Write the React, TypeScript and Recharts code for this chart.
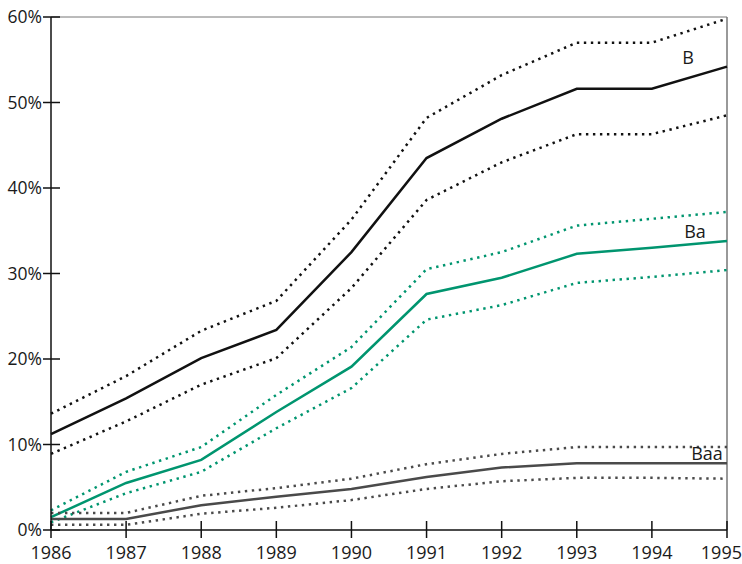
import { LineChart, Line, XAxis, YAxis, ReferenceLine, LabelList } from "recharts";

const years = [1986, 1987, 1988, 1989, 1990, 1991, 1992, 1993, 1994, 1995];

// B rated
const bMid = [11.2, 15.4, 20.1, 23.4, 32.5, 43.5, 48.1, 51.6, 51.6, 54.2];
const bHigh = [13.6, 18.0, 23.3, 26.8, 36.3, 48.2, 53.2, 57.0, 57.0, 59.8];
const bLow = [8.9, 12.7, 17.0, 20.1, 28.3, 38.6, 43.0, 46.3, 46.3, 48.5];

// Ba rated
const baMid = [1.5, 5.5, 8.2, 13.8, 19.1, 27.6, 29.5, 32.3, 33.0, 33.8];
const baHigh = [2.3, 6.8, 9.7, 15.8, 21.4, 30.5, 32.5, 35.6, 36.4, 37.2];
const baLow = [0.9, 4.3, 6.8, 11.9, 16.6, 24.6, 26.3, 28.9, 29.6, 30.4];

// Baa rated
const baaMid = [1.3, 1.3, 2.9, 3.9, 4.8, 6.2, 7.3, 7.8, 7.8, 7.8];
const baaHigh = [2.0, 2.0, 4.0, 4.9, 6.0, 7.7, 8.9, 9.7, 9.7, 9.7];
const baaLow = [0.6, 0.6, 1.9, 2.6, 3.5, 4.8, 5.7, 6.1, 6.1, 6.0];

const yTicks = [0, 10, 20, 30, 40, 50, 60];

const data = years.map((year, i) => ({
  year,
  bMid: bMid[i],
  bHigh: bHigh[i],
  bLow: bLow[i],
  baMid: baMid[i],
  baHigh: baHigh[i],
  baLow: baLow[i],
  baaMid: baaMid[i],
  baaHigh: baaHigh[i],
  baaLow: baaLow[i],
}));

const FONT = "'Open Sans', 'Noto Sans', sans-serif";
const TEXT = "#1a1a1a";
const BLACK = "#111";
const GREEN = "#00956f";
const GRAY = "#4a4a4a";
const DOTS = "2.4 4.6";

const TICK = 8;
const INNER = 9;

function YTick(props: any) {
  const { x, y, payload } = props;
  const ax = x + 2;
  return (
    <g>
      <line x1={ax} x2={ax + TICK + INNER} y1={y} y2={y} stroke="#111" strokeWidth={1.5} />
      <text x={x + 1} y={y} dy="0.35em" textAnchor="end" fontSize={17.5} fontFamily={FONT} fill={TEXT}>
        {payload.value}%
      </text>
    </g>
  );
}

function XTick(props: any) {
  const { x, y, payload, index } = props;
  const top = y - 8 - TICK;
  const last = index === years.length - 1;
  return (
    <g>
      <line x1={x} x2={x} y1={top - INNER} y2={top + TICK} stroke="#111" strokeWidth={1.5} />
      <text
        x={last ? x + 15 : x}
        y={y}
        dy="0.71em"
        textAnchor={last ? "end" : "middle"}
        fontSize={18}
        fontFamily={FONT}
        fill={TEXT}
      >
        {payload.value}
      </text>
    </g>
  );
}

function endLabel(text: string, dx: number) {
  return (props: any) => {
    const { x, y, index } = props;
    if (index !== years.length - 1) return null;
    return (
      <text x={x + dx} y={y - 10} textAnchor="middle" dominantBaseline="central" fontSize={18} fontFamily={FONT} fill={TEXT}>
        {text}
      </text>
    );
  };
}

export default function App() {
  return (
    <div style={{ position: "absolute", left: 0, top: 0, background: "#fff" }}>
      <LineChart width={742} height={564} data={data} margin={{ top: 17, right: 15, bottom: 0, left: 0 }}>
        <XAxis
          dataKey="year"
          type="number"
          domain={[1986, 1995]}
          ticks={years}
          interval={0}
          height={34}
          tickSize={TICK}
          tickMargin={8}
          tickLine={false}
          axisLine={{ stroke: "#111", strokeWidth: 1.5 }}
          tick={<XTick />}
        />
        <YAxis
          type="number"
          domain={[0, 60]}
          ticks={yTicks}
          interval={0}
          width={51}
          tickSize={TICK}
          tickMargin={2}
          tickLine={false}
          axisLine={{ stroke: "#111", strokeWidth: 1.5 }}
          tick={<YTick />}
        />
        <ReferenceLine y={60} stroke="#777" strokeWidth={1} />
        <ReferenceLine x={1995} stroke="#777" strokeWidth={1.5} />

        <Line dataKey="bHigh" stroke={BLACK} strokeWidth={2.5} strokeDasharray={DOTS} dot={false} isAnimationActive={false} />
        <Line dataKey="bLow" stroke={BLACK} strokeWidth={2.5} strokeDasharray={DOTS} dot={false} isAnimationActive={false} />
        <Line dataKey="bMid" stroke={BLACK} strokeWidth={2.5} dot={false} isAnimationActive={false}>
          <LabelList dataKey="bMid" content={endLabel("B", -39)} />
        </Line>

        <Line dataKey="baHigh" stroke={GREEN} strokeWidth={2.5} strokeDasharray={DOTS} dot={false} isAnimationActive={false} />
        <Line dataKey="baLow" stroke={GREEN} strokeWidth={2.5} strokeDasharray={DOTS} dot={false} isAnimationActive={false} />
        <Line dataKey="baMid" stroke={GREEN} strokeWidth={2.5} dot={false} isAnimationActive={false}>
          <LabelList dataKey="baMid" content={endLabel("Ba", -32)} />
        </Line>

        <Line dataKey="baaHigh" stroke={GRAY} strokeWidth={2.5} strokeDasharray={DOTS} dot={false} isAnimationActive={false} />
        <Line dataKey="baaLow" stroke={GRAY} strokeWidth={2.5} strokeDasharray={DOTS} dot={false} isAnimationActive={false} />
        <Line dataKey="baaMid" stroke={GRAY} strokeWidth={2.5} dot={false} isAnimationActive={false}>
          <LabelList dataKey="baaMid" content={endLabel("Baa", -20)} />
        </Line>
      </LineChart>
    </div>
  );
}
